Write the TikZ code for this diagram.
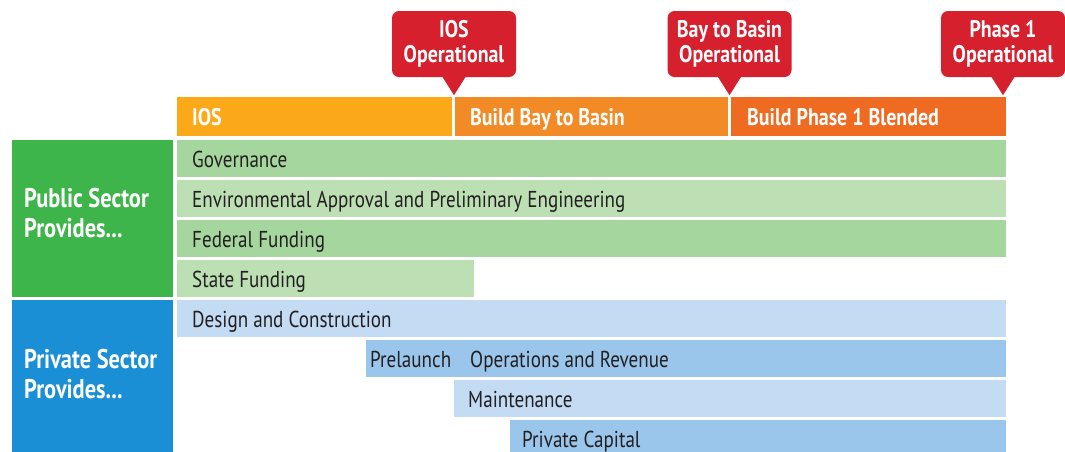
\documentclass[tikz,border=0pt]{standalone}
\usepackage{fontspec}
\setmainfont{PT Sans}[FakeStretch=0.83]
\usetikzlibrary{positioning}

\definecolor{calloutred}{HTML}{D6202E}
\definecolor{iosorange}{HTML}{FBA919}
\definecolor{bayorange}{HTML}{F28B25}
\definecolor{phaseorange}{HTML}{EF6B22}
\definecolor{pubgreen}{HTML}{3DB54A}
\definecolor{greenmid}{HTML}{A5D69E}
\definecolor{greenlight}{HTML}{BCDFB4}
\definecolor{privblue}{HTML}{1A8FD5}
\definecolor{bluelight}{HTML}{C3DBF3}
\definecolor{bluemid}{HTML}{9AC6EB}
\definecolor{txtdark}{HTML}{231F20}

\tikzset{
  barbox/.style={anchor=north west, minimum height=37pt, inner sep=0pt, outer sep=0pt},
  headbox/.style={barbox, minimum height=39pt},
  sectorbox/.style={barbox, minimum width=161pt},
  rowtext/.style={anchor=base west, inner sep=0pt, text=txtdark, font=\fontsize{23}{25}\selectfont},
  headtext/.style={rowtext, text=white, font=\bfseries\fontsize{24}{25}\selectfont},
  sectortext/.style={anchor=base west, inner sep=0pt, align=left, text=white, font=\bfseries\fontsize{27}{30}\selectfont},
  callout/.style={fill=calloutred, rounded corners=7pt, minimum width=124pt, minimum height=66pt,
    inner sep=0pt, align=center, text=white, font=\bfseries\fontsize{24}{25}\selectfont}
}

\begin{document}
\begin{tikzpicture}[x=1pt, y=-1pt]
\useasboundingbox[fill=white] (0,0) rectangle (1065,451);
\clip (0,0) rectangle (1065,451);

% milestone callouts
\node[callout] (iosop) at (454,44) {IOS\\Operational};
\node[callout] (bayop) at (729.5,44) {Bay to Basin\\Operational};
\node[callout] (phaseop) at (1003,44) {Phase 1\\Operational};
\foreach \m in {iosop,bayop,phaseop}
  \fill[calloutred] ([xshift=-12pt,yshift=1pt]\m.south) -- ([xshift=12pt,yshift=1pt]\m.south) -- ([yshift=-18pt]\m.south) -- cycle;

% phase headers
\node[headbox, fill=iosorange, minimum width=275pt] (ios) at (177,97) {};
\node[headbox, fill=bayorange, minimum width=273pt] (bay) at (455,97) {};
\node[headbox, fill=phaseorange, minimum width=275pt] (phase) at (731,97) {};
\node[headtext] (iostxt) at (192,125) {IOS};
\node[headtext] (baytxt) at (470,125) {Build Bay to Basin};
\node[headtext] (phasetxt) at (747,125) {Build Phase 1 Blended};

% public sector
\node[sectorbox, fill=pubgreen, minimum height=157pt] (pub) at (12,140) {};
\node[sectortext] (pubtxt) at (24,237) {Public Sector\\Provides...};
\node[barbox, fill=greenmid, minimum width=829pt] (gov) at (177,140) {};
\node[barbox, fill=greenlight, minimum width=829pt] (env) at (177,180) {};
\node[barbox, fill=greenmid, minimum width=829pt] (fed) at (177,220) {};
\node[barbox, fill=greenlight, minimum width=297pt] (state) at (177,260) {};
\node[rowtext] (govtxt) at (192,167) {Governance};
\node[rowtext] (envtxt) at (192,207) {Environmental Approval and Preliminary Engineering};
\node[rowtext] (fedtxt) at (192,247) {Federal Funding};
\node[rowtext] (statetxt) at (192,287) {State Funding};

% private sector
\node[sectorbox, fill=privblue, minimum height=160pt] (priv) at (12,300) {};
\node[sectortext] (privtxt) at (24,398) {Private Sector\\Provides...};
\node[barbox, fill=bluelight, minimum width=829pt] (design) at (177,300) {};
\node[barbox, fill=bluemid, minimum width=640pt] (ops) at (366,340) {};
\node[barbox, fill=bluelight, minimum width=552pt] (maint) at (454,380) {};
\node[barbox, fill=bluemid, minimum width=496pt] (capital) at (510,420) {};
\node[rowtext] (designtxt) at (192,327) {Design and Construction};
\node[rowtext] (prelaunchtxt) at (370,367) {Prelaunch};
\node[rowtext] (opstxt) at (470,367) {Operations and Revenue};
\node[rowtext] (mainttxt) at (468,407) {Maintenance};
\node[rowtext] (capitaltxt) at (522,447) {Private Capital};

\end{tikzpicture}
\end{document}
